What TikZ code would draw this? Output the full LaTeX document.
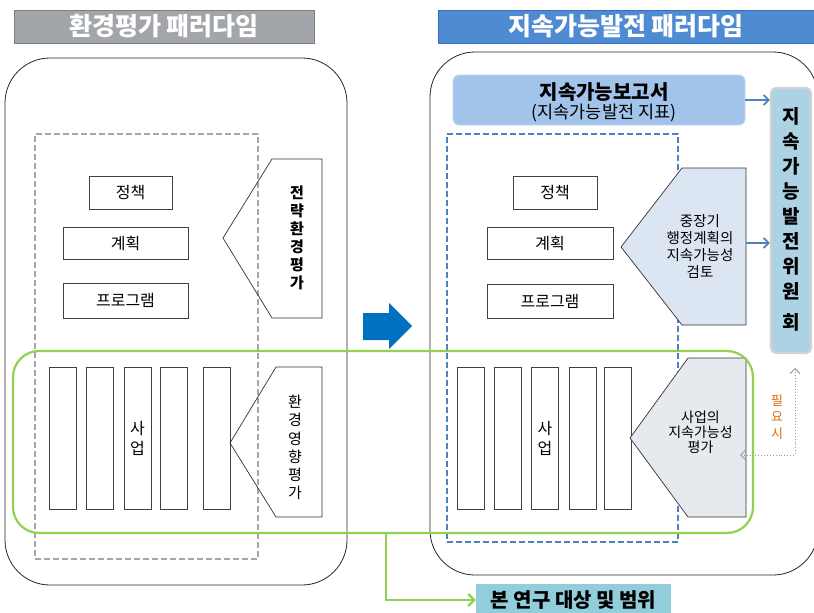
\documentclass[tikz,border=0pt]{standalone}
\usepackage{fontspec}
\setmainfont{Noto Sans CJK KR}
\usetikzlibrary{arrows.meta}
\definecolor{ttlgray}{HTML}{A2A6AA}
\definecolor{ttlgrayd}{HTML}{7F7F7F}
\definecolor{ttlblue}{HTML}{4F8BD2}
\definecolor{ttlblued}{HTML}{3A6DB2}
\definecolor{dashgray}{HTML}{A6A6A6}
\definecolor{dashblue}{HTML}{4F81BD}
\definecolor{grn}{HTML}{92D050}
\definecolor{repblue}{HTML}{A3C4EA}
\definecolor{comblue}{HTML}{ACD2E4}
\definecolor{pentblue}{HTML}{DCE6F2}
\definecolor{pentgray}{HTML}{E6E9ED}
\definecolor{goalblue}{HTML}{92CDDC}
\definecolor{bigarrow}{HTML}{0070C0}
\definecolor{smallarrow}{HTML}{4F81BD}
\definecolor{orng}{HTML}{E46C0A}
\tikzset{
  fsz/.style 2 args={font=\fontsize{#1}{#2}\selectfont},
  ttl/.style={fsz={25}{28}, text=white, line width=0.8pt, inner sep=0pt},
  bigr/.style={draw=black!85, line width=0.8pt, rounded corners=45pt, inner sep=0pt},
  sbox/.style={draw=black!75, line width=0.7pt, fill=white, inner sep=0pt, fsz={16}{18}},
  col/.style={sbox, minimum width=27pt, minimum height=142pt, align=center, fsz={16}{20}},
  pentL/.style={draw=black!80, line width=0.7pt},
  barrow/.style={draw=smallarrow, line width=1.8pt, -{Straight Barb[length=5pt,width=10pt]}},
  dotarr/.style={draw=black!40, line width=0.9pt, dotted, {Straight Barb[length=5pt,width=10pt]}-{Straight Barb[length=5pt,width=10pt]}},
  grnarrow/.style={draw=grn, line width=2.2pt, -{Straight Barb[length=6pt,width=12pt]}},
}
\begin{document}
\begin{tikzpicture}[x=1pt,y=-1pt]
\useasboundingbox (0,0) rectangle (814,613);
\fill[white] (0,0) rectangle (814,613);

% titles
\node[ttl, fill=ttlgray, draw=ttlgrayd, minimum width=300pt, minimum height=33pt] (t1) at (164,26.5) {\textbf{환경평가 패러다임}};
\node[ttl, fill=ttlblue, draw=ttlblued, minimum width=376pt, minimum height=33pt] (t2) at (626,26.5) {\textbf{지속가능발전 패러다임}};

% big containers
\node[bigr, minimum width=342pt, minimum height=527pt] (lb) at (176,321.5) {};
\node[bigr, minimum width=388pt, minimum height=523pt] (rb) at (624,313.5) {};

% dashed frames
\node[draw=dashgray, line width=1.6pt, dash pattern=on 6pt off 3pt, minimum width=223pt, minimum height=425pt, inner sep=0pt] (ld) at (146.5,346.5) {};
\node[draw=dashblue, line width=1.6pt, dash pattern=on 6pt off 3pt, minimum width=231pt, minimum height=408pt, inner sep=0pt] (rd) at (562.5,338) {};

% left boxes
\node[sbox, minimum width=83pt, minimum height=33pt] (lp1) at (130.5,192.5) {정책};
\node[sbox, minimum width=125pt, minimum height=32pt] (lp2) at (125.5,243) {계획};
\node[sbox, minimum width=125pt, minimum height=35pt] (lp3) at (125.5,300.5) {프로그램};
\node[col] (lc1) at (62.5,438) {};
\node[col] (lc2) at (100,438) {};
\node[col] (lc3) at (137.5,438) {사\\업};
\node[col] (lc4) at (174,438) {};
\node[col] (lc5) at (216.5,438) {};

% left pentagons
\draw[pentL] (223,238) -- (272,159) -- (322,159) -- (322,318) -- (272,318) -- cycle;
\node[fsz={15}{18}, align=center] (p1t) at (297,238) {\textbf{전}\\\textbf{략}\\\textbf{환}\\\textbf{경}\\\textbf{평}\\\textbf{가}};
\draw[pentL] (230,443) -- (276,367) -- (322,367) -- (322,517) -- (276,517) -- cycle;
\node[fsz={15}{18.2}, align=center] (p2t) at (295,447.5) {환\\경\\영\\향\\평\\가};

% big blue arrow
\fill[bigarrow] (363,313) -- (389,313) -- (389,303) -- (412,326) -- (389,349) -- (389,340) -- (363,340) -- cycle;

% right boxes
\node[sbox, minimum width=84pt, minimum height=33pt] (rp1) at (555,192.5) {정책};
\node[sbox, minimum width=126pt, minimum height=32pt] (rp2) at (550,243) {계획};
\node[sbox, minimum width=126pt, minimum height=34pt] (rp3) at (550,301) {프로그램};
\node[col] (rc1) at (470.5,438) {};
\node[col] (rc2) at (507.5,438) {};
\node[col] (rc3) at (545,438) {사\\업};
\node[col] (rc4) at (582.5,438) {};
\node[col] (rc5) at (617.5,438) {};

% right pentagons
\draw[pentL, fill=pentblue] (621,247) -- (682,168) -- (746,168) -- (746,325) -- (682,325) -- cycle;
\node[fsz={14.5}{17}, align=center] (p3t) at (700,246) {중장기\\행정계획의\\지속가능성\\검토};
\coordinate (p3r) at (746,243);
\draw[pentL, fill=pentgray] (630,438) -- (688,358) -- (746,358) -- (746,517) -- (688,517) -- cycle;
\node[fsz={14}{15}, align=center] (p4t) at (700.5,432) {사업의\\지속가능성\\평가};
\coordinate (p4r) at (740,455);

% report box
\node[fill=repblue, draw=repblue!70!white, line width=0.8pt, rounded corners=6pt, minimum width=292pt, minimum height=50pt, inner sep=0pt] (rep) at (599,100) {};
\node[fsz={20}{22}] (rept1) at (604,92) {\textbf{지속가능보고서}};
\node[fsz={17.5}{19}] (rept2) at (604,113) {(지속가능발전 지표)};

% committee
\node[fill=comblue, draw=black!18, line width=2.2pt, rounded corners=5pt, minimum width=40pt, minimum height=265pt, inner sep=0pt] (com) at (791,220.5) {};
\node[fsz={19}{25}, align=center] (comt) at (791,219) {\textbf{지}\\\textbf{속}\\\textbf{가}\\\textbf{능}\\\textbf{발}\\\textbf{전}\\\textbf{위}\\\textbf{원}\\[6pt]\textbf{회}};

% arrows to committee
\draw[barrow] (rep.east) -- (com.west |- rep.east);
\draw[barrow] (p3r) -- (com.west |- p3r);

% dotted feedback
\coordinate (dtop) at (795,368);
\draw[dotarr] (dtop) |- (p4r);
\node[fsz={13}{16.5}, text=orng, align=center] (need) at (777,417) {필\\요\\시};

% green scope frame
\node[draw=grn, line width=2.2pt, rounded corners=26pt, minimum width=740pt, minimum height=182pt, inner sep=0pt] (grnbox) at (383,442) {};
\coordinate (gs) at (386,533);
\node[fill=goalblue, minimum width=195pt, minimum height=32pt, inner sep=0pt, fsz={20}{22}] (goal) at (573.5,600) {\textbf{본 연구 대상 및 범위}};
\draw[grnarrow] (gs) |- (goal.west);
\end{tikzpicture}
\end{document}
